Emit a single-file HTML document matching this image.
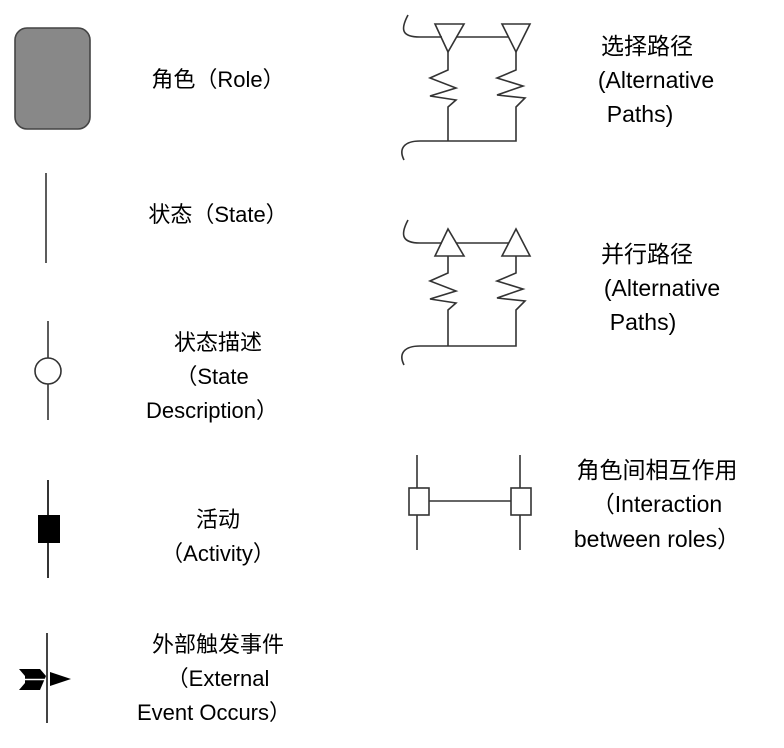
<!DOCTYPE html>
<html><head><meta charset="utf-8"><style>
body{margin:0;background:#fff;width:784px;height:743px;overflow:hidden}
</style></head><body>
<svg width="784" height="743" xmlns="http://www.w3.org/2000/svg" font-family="Liberation Sans, Noto Sans CJK SC, sans-serif" font-size="22" fill="#000">
<g stroke="#333" stroke-width="1.6" fill="none">
<rect x="15" y="28" width="75" height="101" rx="12" fill="#888" stroke="#444"/>
<line x1="46" y1="173" x2="46" y2="263"/>
<line x1="48" y1="321" x2="48" y2="358"/><line x1="48" y1="384" x2="48" y2="420"/>
<circle cx="48" cy="371" r="13"/>
<line x1="48" y1="480" x2="48" y2="578" stroke="#000"/>
<line x1="47" y1="633" x2="47" y2="723" stroke="#444" stroke-width="2"/>
</g>
<rect x="38" y="515" width="22" height="28" fill="#000"/>
<polygon points="19,669 40,669 46,676 40,690 19,690 25,683 25,676" fill="#000"/>
<line x1="22" y1="679.5" x2="45" y2="679.5" stroke="#fff" stroke-width="1.6"/>
<polygon points="50,672 71,679 50,686" fill="#000"/>

<g stroke="#333" stroke-width="1.6" fill="none">
<path d="M408,15 C400,30 402,37 420,37 L442,37"/>
<polygon points="435,24 464,24 448,52"/>
<polygon points="502,24 530,24 516,52"/>
<line x1="456" y1="37" x2="509" y2="37"/>
<path d="M448,52 V70 L430,78 L456,88 L430,96 L456,100 L448,107 V141"/>
<path d="M516,52 V70 L497,78 L523,86 L497,95 L525,98 L516,107 V141 H448"/>
<path d="M448,141 H420 C405,141 398,148 404,160"/>
<path d="M408,220 C400,235 402,243 420,243 L442,243"/>
<polygon points="435,256 464,256 448,229"/>
<polygon points="502,256 530,256 516,229"/>
<line x1="456" y1="243" x2="509" y2="243"/>
<path d="M448,256 V273 L430,281 L456,291 L430,299 L456,303 L448,310 V346"/>
<path d="M516,256 V273 L497,281 L523,289 L497,298 L525,301 L516,310 V346 H448"/>
<path d="M448,346 H420 C405,346 398,353 404,365"/>
<line x1="417" y1="455" x2="417" y2="550"/>
<line x1="520" y1="455" x2="520" y2="550"/>
<rect x="409" y="488" width="20" height="27" fill="#fff"/>
<rect x="511" y="488" width="20" height="27" fill="#fff"/>
<line x1="429" y1="501" x2="511" y2="501"/>
</g>

<g text-anchor="middle">
<text x="218" y="87">角色（Role）</text>
<text x="218" y="222">状态（State）</text>
<text x="218" y="350">状态描述</text>
<text x="212" y="384">（State</text>
<text x="212" y="418">Description）</text>
<text x="218" y="527">活动</text>
<text x="218" y="561">（Activity）</text>
<text x="218" y="652">外部触发事件</text>
<text x="218" y="686">（External</text>
<text x="214" y="720">Event Occurs）</text>
</g>
<g text-anchor="middle" font-size="23">
<text x="647" y="54">选择路径</text>
<text x="656" y="88">(Alternative</text>
<text x="640" y="122">Paths)</text>
<text x="647" y="262">并行路径</text>
<text x="662" y="296">(Alternative</text>
<text x="643" y="330">Paths)</text>
<text x="657" y="478">角色间相互作用</text>
<text x="657" y="512">（Interaction</text>
<text x="657" y="547">between roles）</text>
</g>
</svg>
</body></html>
